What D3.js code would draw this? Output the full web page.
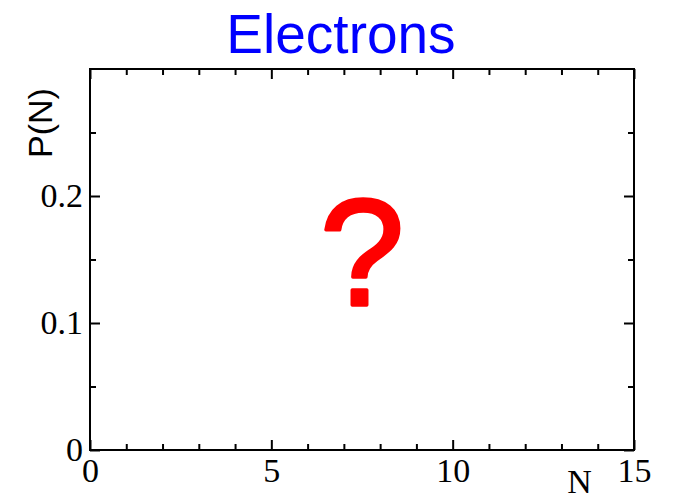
<!DOCTYPE html>
<html>
<head>
<meta charset="utf-8">
<script src="https://cdn.jsdelivr.net/npm/d3@7"></script>
<style>
  body { margin: 0; background: #fff; }
  .tick text { font-family: "Liberation Serif", "Times New Roman", serif; font-size: 34px; fill: #000; }
  .tick line { stroke: #000; stroke-width: 2; }
  .domain { display: none; }
</style>
</head>
<body>
<div id="app"></div>
<script>
const title = 'Electrons';
const xLabel = 'N';
const yLabel = 'P(N)';
const xDomain = [0, 15];
const yDomain = [0, 0.3];
const xMajor = [0, 5, 10, 15];
const xMinor = [1, 2, 3, 4, 6, 7, 8, 9, 11, 12, 13, 14];
const yMajor = [0, 0.1, 0.2];
const yMinor = [0.05, 0.15, 0.25];
const mark = { text: '?', x: 7.5, y: 0.113 };

const width = 673;
const height = 495;
const margin = { top: 69, right: 39, bottom: 45, left: 90 };

const svg = d3.select('#app').append('svg')
  .attr('width', width)
  .attr('height', height);

const x = d3.scaleLinear().domain(xDomain).range([margin.left, width - margin.right]);
const y = d3.scaleLinear().domain(yDomain).range([height - margin.bottom, margin.top]);

const fmtY = d => d === 0 ? '0' : d3.format('.1f')(d);

// major ticks, inside, labelled on bottom/left
svg.append('g')
  .attr('transform', `translate(0,${y(0)})`)
  .call(d3.axisBottom(x).tickValues(xMajor).tickSize(-10).tickSizeOuter(0))
  .selectAll('text').attr('dy', '0.71em').attr('y', 8);

svg.append('g')
  .attr('transform', `translate(${x(0)},0)`)
  .call(d3.axisLeft(y).tickValues(yMajor).tickFormat(fmtY).tickSize(-10).tickSizeOuter(0).tickPadding(7));

svg.append('g')
  .attr('transform', `translate(0,${y(0.3)})`)
  .call(d3.axisTop(x).tickValues(xMajor).tickSize(-10).tickSizeOuter(0).tickFormat(''));

svg.append('g')
  .attr('transform', `translate(${x(15)},0)`)
  .call(d3.axisRight(y).tickValues(yMajor).tickSize(-10).tickSizeOuter(0).tickFormat(''));

// minor ticks
svg.append('g')
  .attr('transform', `translate(0,${y(0)})`)
  .call(d3.axisBottom(x).tickValues(xMinor).tickSize(-6).tickSizeOuter(0).tickFormat(''));
svg.append('g')
  .attr('transform', `translate(0,${y(0.3)})`)
  .call(d3.axisTop(x).tickValues(xMinor).tickSize(-6).tickSizeOuter(0).tickFormat(''));
svg.append('g')
  .attr('transform', `translate(${x(0)},0)`)
  .call(d3.axisLeft(y).tickValues(yMinor).tickSize(-6).tickSizeOuter(0).tickFormat(''));
svg.append('g')
  .attr('transform', `translate(${x(15)},0)`)
  .call(d3.axisRight(y).tickValues(yMinor).tickSize(-6).tickSizeOuter(0).tickFormat(''));

// frame
svg.append('rect')
  .attr('x', x(0))
  .attr('y', y(0.3))
  .attr('width', x(15) - x(0))
  .attr('height', y(0) - y(0.3))
  .attr('fill', 'none')
  .attr('stroke', '#000')
  .attr('stroke-width', 2);

svg.append('text')
  .attr('x', 341)
  .attr('y', 53)
  .attr('text-anchor', 'middle')
  .style('font-family', '"Liberation Sans", Arial, sans-serif')
  .style('font-size', '55px')
  .attr('fill', '#0000ff')
  .text(title);

svg.append('text')
  .attr('x', x(13.5))
  .attr('y', 493)
  .attr('text-anchor', 'middle')
  .style('font-family', '"Liberation Serif", "Times New Roman", serif')
  .style('font-size', '34px')
  .text(xLabel);

svg.append('text')
  .attr('transform', 'translate(52,123) rotate(-90)')
  .attr('text-anchor', 'middle')
  .style('font-family', '"Liberation Sans", Arial, sans-serif')
  .style('font-size', '34px')
  .text(yLabel);

svg.append('text')
  .attr('x', x(mark.x))
  .attr('y', y(mark.y) - 1)
  .attr('text-anchor', 'middle')
  .style('font-family', '"Liberation Sans", Arial, sans-serif')
  .style('font-size', '152px')
  .attr('fill', '#ff0000')
  .attr('stroke', '#ff0000')
  .attr('stroke-width', 3.5)
  .attr('stroke-linejoin', 'round')
  .text(mark.text);
</script>
</body>
</html>
